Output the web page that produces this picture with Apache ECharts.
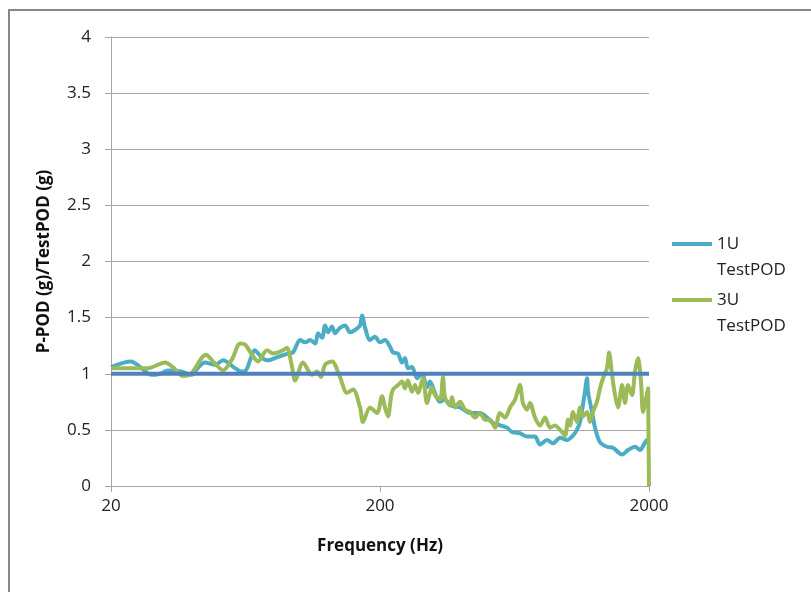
<!DOCTYPE html>
<html>
<head>
<meta charset="utf-8">
<script src="https://cdn.jsdelivr.net/npm/echarts@6/dist/echarts.min.js"></script>
<style>
  html, body { margin: 0; padding: 0; background: #fff; }
  #chart { width: 811px; height: 592px; }
</style>
</head>
<body>
<div id="chart"></div>
<script>
// Transmissibility ratio P-POD / TestPOD versus frequency
const freq1U = [20, 23.7, 26, 28.2, 30.4, 32.6, 36.4, 39.7, 42, 44.7, 48.7, 52.2, 57.8, 61, 63.5, 66, 68.4, 73, 76.7, 83.6,
  91, 95, 100.9, 105.3, 110, 115, 117.6, 121.8, 125, 128.2, 132.6, 136, 142, 148.3, 154.7, 161.5, 168.6, 171.5, 176, 183.6,
  191.6, 200, 208.7, 218, 223.6, 233.4, 241.5, 247.6, 254, 263, 274.7, 286.5, 299, 306.8, 320, 334.2, 348.7, 364, 396.6, 432.2,
  470.7, 500, 526.3, 558.7, 593.4, 619.2, 662.8, 703.6, 753.5, 786.4, 835.7, 879, 934.3, 991.5, 1043.7, 1079, 1108, 1156, 1177, 1187,
  1228, 1259.8, 1315, 1396, 1470, 1588, 1671, 1774, 1852, 1916, 1967, 2000];
const val1U = [1.06, 1.11, 1.05, 0.99, 1.00, 1.03, 1.02, 0.99, 1.05, 1.10, 1.08, 1.12, 1.05, 1.02, 1.03, 1.13, 1.21, 1.14, 1.12, 1.15,
  1.18, 1.19, 1.30, 1.28, 1.30, 1.27, 1.36, 1.32, 1.43, 1.37, 1.42, 1.36, 1.41, 1.43, 1.37, 1.39, 1.43, 1.52, 1.41, 1.30,
  1.33, 1.28, 1.30, 1.24, 1.19, 1.18, 1.10, 1.14, 1.05, 1.06, 0.96, 1.00, 0.88, 0.93, 0.83, 0.75, 0.77, 0.72, 0.70, 0.65,
  0.65, 0.61, 0.56, 0.54, 0.52, 0.48, 0.47, 0.44, 0.44, 0.37, 0.41, 0.38, 0.43, 0.41, 0.45, 0.50, 0.57, 0.84, 0.96, 0.84,
  0.66, 0.52, 0.39, 0.35, 0.34, 0.28, 0.32, 0.35, 0.32, 0.37, 0.41, 0.40];

const freq3U = [20, 27.4, 31.8, 34.3, 37, 39.7, 45.1, 48.3, 52.2, 56.4, 60.4, 63, 66.9, 70.4, 76, 80, 83.6, 87.2, 90.2, 94.2,
  96.7, 103.5, 111.7, 116.6, 120.7, 125, 132.6, 142, 150.8, 158.8, 168.6, 172.9, 183.6, 195, 203.5, 208.7, 214.2, 220, 223.6, 233.4,
  241.5, 247.6, 254, 263, 270, 276.9, 289, 299, 312.3, 320, 334.2, 342.9, 348.7, 364, 370.4, 380, 396.6, 413.9, 432.2, 451.1,
  470.7, 491.4, 512.9, 535.3, 558.7, 583, 608.8, 635.4, 662.8, 679.8, 703.6, 721.9, 753.5, 786.4, 821.5, 856.8, 894.3, 934.3, 975, 1000,
  1017.3, 1043.7, 1079, 1108, 1136, 1177, 1207.3, 1238.3, 1281, 1315, 1349, 1396, 1421, 1458, 1495, 1534, 1588, 1629, 1671, 1729.5,
  1774, 1820, 1867.4, 1900, 1950, 1983, 1990, 2000];
const val3U = [1.05, 1.05, 1.10, 1.05, 0.98, 1.00, 1.17, 1.10, 1.03, 1.13, 1.27, 1.26, 1.17, 1.11, 1.21, 1.18, 1.19, 1.21, 1.23, 1.06,
  0.94, 1.10, 0.99, 1.02, 0.97, 1.08, 1.11, 0.97, 0.83, 0.86, 0.70, 0.57, 0.70, 0.65, 0.80, 0.70, 0.62, 0.80, 0.86, 0.90,
  0.93, 0.87, 0.94, 0.84, 0.90, 0.83, 0.96, 0.74, 0.88, 0.81, 0.77, 0.97, 0.79, 0.72, 0.79, 0.70, 0.75, 0.68, 0.66, 0.61,
  0.65, 0.59, 0.59, 0.52, 0.65, 0.61, 0.70, 0.77, 0.90, 0.74, 0.68, 0.74, 0.61, 0.54, 0.61, 0.52, 0.54, 0.50, 0.45, 0.59,
  0.54, 0.66, 0.57, 0.70, 0.62, 0.66, 0.57, 0.66, 0.75, 0.87, 0.96, 1.05, 1.19, 0.99, 0.81, 0.70, 0.90, 0.74, 0.90, 0.81,
  1.02, 1.14, 0.93, 0.66, 0.78, 0.87, 0.56, 0.00];

// Unity reference line
const refFreq = [20, 2000];
const refVal = [1, 1];

const xTicks = [20, 200, 2000];
const seriesNames = ['1U TestPOD', '3U TestPOD'];

const FONT = "'Open Sans', sans-serif";
const GRID_COLOR = '#a6a6a6';

const zip = (xs, ys) => xs.map((x, i) => [x, ys[i]]);

const chart = echarts.init(document.getElementById('chart'), null, { renderer: 'canvas' });

// One legend per entry; the leading blank line puts the swatch beside the first text line
function legendFor(name, top) {
  return {
    data: [name],
    left: 672,
    top: top,
    padding: 0,
    orient: 'vertical',
    icon: 'rect',
    itemWidth: 40,
    itemHeight: 4,
    selectedMode: false,
    formatter: n => '\n' + n.replace(' ', '\n'),
    textStyle: { fontFamily: FONT, fontSize: 17, lineHeight: 26, color: '#222' }
  };
}

chart.setOption({
  animation: false,
  backgroundColor: '#fff',
  textStyle: { fontFamily: FONT },
  graphic: [{
    type: 'rect',
    z: -10,
    shape: { x: 9, y: 10, width: 1000, height: 800 },
    style: { fill: 'none', stroke: '#878787', lineWidth: 2 }
  }],
  grid: { left: 111, right: 162, top: 37, bottom: 106 },
  legend: [legendFor(seriesNames[0], 205), legendFor(seriesNames[1], 261)],
  xAxis: {
    type: 'log',
    logBase: 10,
    min: 20,
    max: 2000,
    name: 'Frequency (Hz)',
    nameLocation: 'middle',
    nameGap: 52,
    nameTextStyle: { fontFamily: FONT, fontWeight: 'bold', fontSize: 17, color: '#111' },
    axisLine: { lineStyle: { color: GRID_COLOR, width: 1 } },
    axisTick: { show: true, customValues: xTicks, length: 6, lineStyle: { color: GRID_COLOR } },
    axisLabel: { customValues: xTicks, formatter: v => String(v), margin: 12, fontSize: 17, color: '#222', fontFamily: FONT },
    splitLine: { show: false },
    minorTick: { show: false },
    minorSplitLine: { show: false }
  },
  yAxis: {
    type: 'value',
    min: 0,
    max: 4,
    interval: 0.5,
    name: 'P-POD (g)/TestPOD (g)',
    nameLocation: 'middle',
    nameGap: 58,
    nameTextStyle: { fontFamily: FONT, fontWeight: 'bold', fontSize: 17, color: '#111' },
    axisLine: { show: true, lineStyle: { color: GRID_COLOR, width: 1 } },
    axisTick: { show: true, length: 6, lineStyle: { color: GRID_COLOR } },
    axisLabel: { margin: 20, fontSize: 17, color: '#222', fontFamily: FONT },
    splitLine: { lineStyle: { color: GRID_COLOR, width: 1 } }
  },
  series: [
    {
      name: seriesNames[0],
      type: 'line',
      data: zip(freq1U, val1U),
      showSymbol: false,
      symbol: 'none',
      smooth: 0.3,
      color: '#4bacc6',
      lineStyle: { color: '#4bacc6', width: 4 },
      z: 2
    },
    {
      name: seriesNames[1],
      type: 'line',
      data: zip(freq3U, val3U),
      showSymbol: false,
      symbol: 'none',
      smooth: 0.3,
      color: '#9bbb59',
      lineStyle: { color: '#9bbb59', width: 4 },
      z: 3
    },
    {
      name: 'Unity',
      type: 'line',
      data: zip(refFreq, refVal),
      showSymbol: false,
      symbol: 'none',
      color: '#4f81bd',
      lineStyle: { color: '#4f81bd', width: 4 },
      silent: true,
      z: 4
    }
  ]
});
</script>
</body>
</html>
